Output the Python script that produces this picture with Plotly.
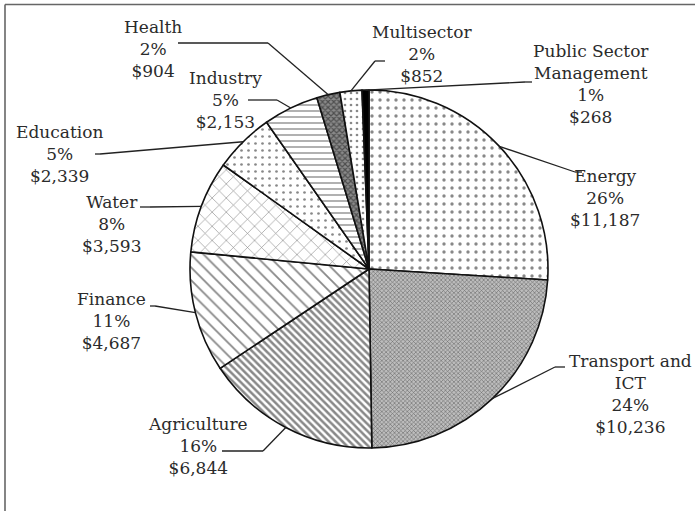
import math
import plotly.graph_objects as go

W, H = 695, 511

categories = ["Energy", "Transport and ICT", "Agriculture", "Finance", "Water",
              "Education", "Industry", "Health", "Multisector", "Public Sector Management"]
label_names = ["Energy", "Transport and<br>ICT", "Agriculture", "Finance", "Water",
               "Education", "Industry", "Health", "Multisector", "Public Sector<br>Management"]
amounts = [11187, 10236, 6844, 4687, 3593, 2339, 2153, 904, 852, 268]

# styling (black & white patterns)
pattern_shapes = [".", "x", "\\", "\\", "x", ".", "-", "x", ".", ""]
pattern_sizes = [8, 3, 5, 9, 10, 7, 6, 4, 6, 8]
pattern_solid = [0.14, 0.35, 0.5, 0.2, 0.12, 0.12, 0.22, 0.5, 0.16, 0.3]
fill_colors = ["white", "#bdbdbd", "white", "white", "white",
               "white", "white", "#8a8a8a", "white", "black"]

# pie geometry in pixels
CX, CY, R = 369, 269, 179

# label layout in pixels: text centre (x, y), elbow (x, y), line end (x, y)
label_layout = [
    (605, 198, 575, 172, 582, 172),   # Energy
    (630, 394, 555, 367, 565, 367),   # Transport
    (198, 446, 263, 451, 222, 451),   # Agriculture
    (112, 321, 155, 306, 150, 306),   # Finance
    (111, 224, 150, 207, 140, 207),   # Water
    (59, 154, 100, 154, 95, 154),     # Education
    (225, 100, 277, 100, 248, 100),   # Industry
    (153, 49, 268, 43, 178, 43),      # Health
    (422, 54, 375, 61, 385, 61),      # Multisector
    (591, 84, 525, 82, 532, 82),      # Public Sector Management
]

def px(x):
    return x / W

def py(y):
    return 1 - y / H

total = sum(amounts)

fig = go.Figure()
fig.add_trace(go.Pie(
    values=amounts,
    labels=categories,
    sort=False,
    direction="clockwise",
    rotation=0,
    textinfo="none",
    hoverinfo="label+value+percent",
    domain=dict(x=[px(CX - R), px(CX + R)], y=[py(CY + R), py(CY - R)]),
    marker=dict(
        colors=fill_colors,
        line=dict(color="#111111", width=1.6),
        pattern=dict(shape=pattern_shapes, size=pattern_sizes, solidity=pattern_solid,
                     fgcolor="#111111", fillmode="overlay"),
    ),
    showlegend=False,
))

shapes = []
annotations = []
cum = 0
for name, v, lay in zip(label_names, amounts, label_layout):
    theta = 2 * math.pi * (cum + v / 2) / total
    cum += v
    ex = CX + R * math.sin(theta)
    ey = CY - R * math.cos(theta)
    tx, ty, bx, by, lx, ly = lay
    pct = round(v / total * 100)
    text = f"{name}<br>{pct}%<br>${v:,}"
    annotations.append(dict(x=px(tx), y=py(ty), xref="paper", yref="paper", text=text,
                            showarrow=False, xanchor="center", yanchor="middle", align="center",
                            font=dict(family="DejaVu Serif", size=17, color="#2b2b2b")))
    for (x0, y0, x1, y1) in [(ex, ey, bx, by), (bx, by, lx, ly)]:
        shapes.append(dict(type="line", xref="paper", yref="paper",
                           x0=px(x0), y0=py(y0), x1=px(x1), y1=py(y1),
                           line=dict(color="#222222", width=1.3)))

# outer frame (left and top)
shapes.append(dict(type="line", xref="paper", yref="paper", x0=px(5), y0=py(4.5), x1=px(5), y1=0,
                   line=dict(color="#666666", width=1.6)))
shapes.append(dict(type="line", xref="paper", yref="paper", x0=px(5), y0=py(4.5), x1=1, y1=py(4.5),
                   line=dict(color="#666666", width=1.6)))

fig.update_layout(
    width=W, height=H,
    margin=dict(l=0, r=0, t=0, b=0),
    paper_bgcolor="white",
    plot_bgcolor="white",
    showlegend=False,
    shapes=shapes,
    annotations=annotations,
)

fig.write_html("out.html",
               config={"displayModeBar": False},
               post_script="document.body.style.margin='0px';document.body.style.overflow='hidden';")
